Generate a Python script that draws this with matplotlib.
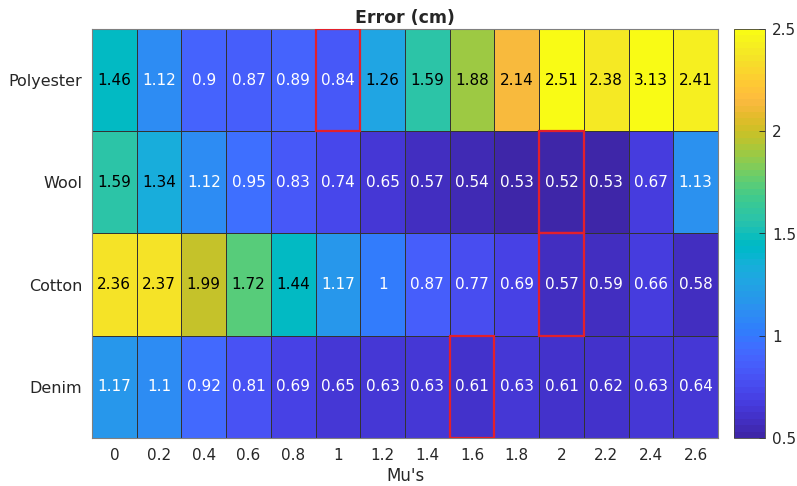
import numpy as np
import matplotlib.pyplot as plt
from matplotlib.colors import ListedColormap
from matplotlib.patches import Rectangle

## data
fabrics = ['Polyester', 'Wool', 'Cotton', 'Denim']
mus = ['0', '0.2', '0.4', '0.6', '0.8', '1', '1.2', '1.4', '1.6', '1.8', '2', '2.2', '2.4', '2.6']
polyester = [1.46, 1.12, 0.9, 0.87, 0.89, 0.84, 1.26, 1.59, 1.88, 2.14, 2.51, 2.38, 3.13, 2.41]
wool = [1.59, 1.34, 1.12, 0.95, 0.83, 0.74, 0.65, 0.57, 0.54, 0.53, 0.52, 0.53, 0.67, 1.13]
cotton = [2.36, 2.37, 1.99, 1.72, 1.44, 1.17, 1, 0.87, 0.77, 0.69, 0.57, 0.59, 0.66, 0.58]
denim = [1.17, 1.1, 0.92, 0.81, 0.69, 0.65, 0.63, 0.63, 0.61, 0.63, 0.61, 0.62, 0.63, 0.64]

err = np.array([polyester, wool, cotton, denim])

### parula (matlab) colormap, 64 steps
parula = [
    [0.2422, 0.1504, 0.6603], [0.2504, 0.1650, 0.7076], [0.2578, 0.1818, 0.7511], [0.2647, 0.1978, 0.7952],
    [0.2706, 0.2147, 0.8364], [0.2751, 0.2342, 0.8710], [0.2783, 0.2559, 0.8991], [0.2803, 0.2782, 0.9221],
    [0.2813, 0.3006, 0.9414], [0.2810, 0.3228, 0.9579], [0.2795, 0.3447, 0.9717], [0.2760, 0.3667, 0.9829],
    [0.2699, 0.3892, 0.9906], [0.2602, 0.4123, 0.9952], [0.2440, 0.4358, 0.9988], [0.2206, 0.4603, 0.9973],
    [0.1963, 0.4847, 0.9892], [0.1834, 0.5074, 0.9798], [0.1786, 0.5289, 0.9682], [0.1764, 0.5499, 0.9520],
    [0.1687, 0.5703, 0.9359], [0.1540, 0.5902, 0.9218], [0.1460, 0.6091, 0.9079], [0.1380, 0.6276, 0.8973],
    [0.1248, 0.6459, 0.8883], [0.1113, 0.6635, 0.8763], [0.0952, 0.6798, 0.8598], [0.0689, 0.6948, 0.8394],
    [0.0297, 0.7082, 0.8163], [0.0036, 0.7203, 0.7917], [0.0067, 0.7312, 0.7660], [0.0433, 0.7411, 0.7394],
    [0.0964, 0.7500, 0.7120], [0.1408, 0.7584, 0.6842], [0.1717, 0.7670, 0.6554], [0.1938, 0.7758, 0.6251],
    [0.2161, 0.7843, 0.5923], [0.2470, 0.7918, 0.5567], [0.2906, 0.7973, 0.5188], [0.3406, 0.8008, 0.4789],
    [0.3909, 0.8029, 0.4354], [0.4456, 0.8024, 0.3909], [0.5044, 0.7993, 0.3480], [0.5616, 0.7942, 0.3045],
    [0.6174, 0.7876, 0.2612], [0.6720, 0.7793, 0.2227], [0.7242, 0.7698, 0.1910], [0.7738, 0.7598, 0.1646],
    [0.8203, 0.7498, 0.1535], [0.8634, 0.7406, 0.1596], [0.9035, 0.7330, 0.1774], [0.9393, 0.7288, 0.2100],
    [0.9728, 0.7298, 0.2394], [0.9956, 0.7434, 0.2371], [0.9970, 0.7659, 0.2199], [0.9952, 0.7893, 0.2028],
    [0.9892, 0.8136, 0.1885], [0.9786, 0.8386, 0.1766], [0.9676, 0.8639, 0.1643], [0.9610, 0.8890, 0.1537],
    [0.9597, 0.9135, 0.1423], [0.9628, 0.9373, 0.1265], [0.9691, 0.9606, 0.1064], [0.9769, 0.9839, 0.0805],
]
cmap = ListedColormap(parula)

fig = plt.figure(figsize=(7.97, 4.86), dpi=100)
ax = fig.add_axes([92/797, 1-438/486, 626/797, 409/486])
cax = fig.add_axes([734/797, 1-438/486, 31/797, 409/486])

mesh = ax.pcolormesh(err, cmap=cmap, vmin=0.5, vmax=2.5, edgecolors='#333333', linewidth=0.6)
ax.set_xlim(0, len(mus))
ax.set_ylim(len(fabrics), 0)

# cell labels
for r in range(err.shape[0]):
    for c in range(err.shape[1]):
        v = err[r, c]
        col = 'black' if v >= 1.2 else 'white'
        ax.text(c + 0.5, r + 0.5, f'{v:g}', ha='center', va='center', fontsize=11, color=col)

# red box round the smallest error in each row
for r in range(err.shape[0]):
    c = int(np.argmin(err[r]))
    ax.add_patch(Rectangle((c, r), 1, 1, fill=False, edgecolor='#e3202b', linewidth=1.6, zorder=5))

ax.set_xticks(np.arange(len(mus)) + 0.5)
ax.set_xticklabels(mus)
ax.set_yticks(np.arange(len(fabrics)) + 0.5)
ax.set_yticklabels(fabrics)
ax.tick_params(length=0, labelsize=11, colors='#262626', pad=7)
ax.tick_params(axis='y', labelsize=11.5)
for s in ax.spines.values():
    s.set_color('#808080')
ax.set_xlabel("Mu's", fontsize=12, color='#262626', labelpad=3)
ax.set_title('Error (cm)', fontsize=12.5, fontweight='bold', color='#262626', pad=4)

cb = fig.colorbar(mesh, cax=cax, ticks=[0.5, 1, 1.5, 2, 2.5])
cb.ax.set_yticklabels(['0.5', '1', '1.5', '2', '2.5'])
cb.ax.tick_params(direction='in', length=4, width=0.6, labelsize=11, colors='#262626', pad=5)
cb.outline.set_edgecolor('#404040')
cb.outline.set_linewidth(0.6)

plt.savefig('out.png', dpi=100)
